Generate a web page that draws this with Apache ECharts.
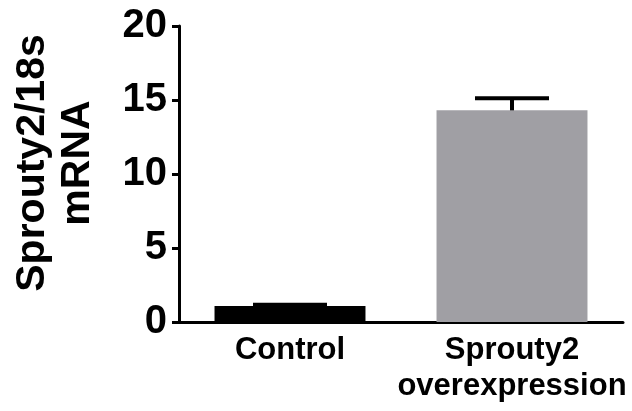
<!DOCTYPE html>
<html>
<head>
<meta charset="utf-8">
<script src="https://cdn.jsdelivr.net/npm/echarts@6/dist/echarts.min.js"></script>
<style>
html,body{margin:0;padding:0;background:#fff;}
#chart{width:632px;height:411px;}
</style>
</head>
<body>
<div id="chart"></div>
<script>
var categories = ['Control', 'Sprouty2\noverexpression'];
var meanValues = [1.08, 14.3];
var errorUpper = [1.16, 15.12];
var barColors = ['#000000', '#a09fa4'];
var yTicks = [0, 5, 10, 15, 20];

var chart = echarts.init(document.getElementById('chart'), null, {renderer: 'canvas'});
var font = 'Liberation Sans, Arial, Helvetica, sans-serif';

var option = {
  backgroundColor: '#ffffff',
  animation: false,
  grid: {left: 179, right: 9, top: 26, bottom: 89, containLabel: false},
  xAxis: {
    type: 'category',
    data: categories,
    axisLine: {lineStyle: {color: '#000', width: 3}},
    axisTick: {alignWithLabel: true, length: 8, lineStyle: {color: '#000', width: 3}},
    axisLabel: {color: '#000', fontFamily: font, fontWeight: 'bold', fontSize: 31, lineHeight: 36, margin: 10, interval: 0}
  },
  yAxis: {
    type: 'value',
    min: yTicks[0],
    max: yTicks[yTicks.length - 1],
    interval: 5,
    name: 'Sprouty2/18s\nmRNA',
    nameLocation: 'middle',
    nameGap: 79,
    nameTextStyle: {color: '#000', fontFamily: font, fontWeight: 'bold', fontSize: 41, lineHeight: 45, padding: [0, 0, 0, 22]},
    axisLine: {show: true, lineStyle: {color: '#000', width: 3}},
    axisTick: {show: true, length: 7, lineStyle: {color: '#000', width: 3}},
    axisLabel: {color: '#000', fontFamily: font, fontWeight: 'bold', fontSize: 40, margin: 12},
    splitLine: {show: false}
  },
  series: [
    {
      type: 'bar',
      barWidth: '68%',
      data: meanValues.map(function (v, i) {
        return {value: v, itemStyle: {color: barColors[i]}};
      }),
      z: 2
    },
    {
      type: 'custom',
      z: 3,
      data: meanValues.map(function (v, i) { return [i, v, errorUpper[i]]; }),
      renderItem: function (params, api) {
        var x = api.value(0);
        var base = api.coord([x, api.value(1)]);
        var top = api.coord([x, api.value(2)]);
        var half = 37;
        var st = {stroke: '#000', lineWidth: 4};
        return {
          type: 'group',
          children: [
            {type: 'line', shape: {x1: base[0], y1: base[1], x2: top[0], y2: top[1]}, style: st},
            {type: 'line', shape: {x1: top[0] - half, y1: top[1], x2: top[0] + half, y2: top[1]}, style: st}
          ]
        };
      }
    }
  ]
};
chart.setOption(option);
</script>
</body>
</html>
